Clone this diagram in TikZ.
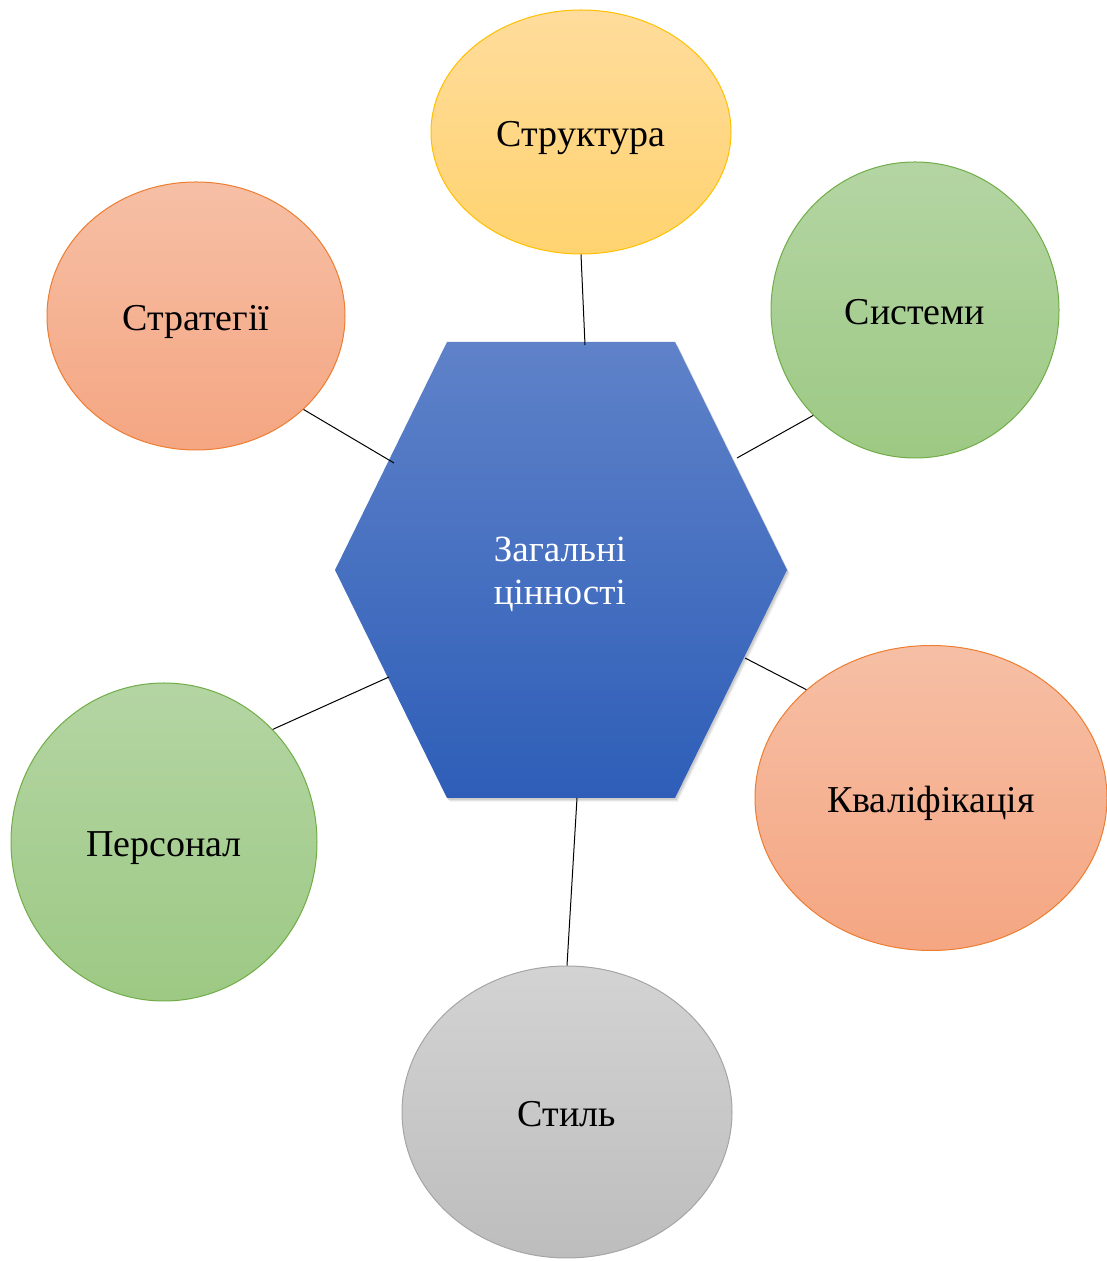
\documentclass[tikz,border=0pt]{standalone}
\usepackage{fontspec}
\setmainfont{Liberation Serif}
\usetikzlibrary{shapes.geometric}

\definecolor{orTop}{HTML}{F6BFA5}
\definecolor{orBot}{HTML}{F5A682}
\definecolor{orLine}{HTML}{ED7D31}
\definecolor{yeTop}{HTML}{FFDC9C}
\definecolor{yeBot}{HTML}{FFD36F}
\definecolor{yeLine}{HTML}{FFC000}
\definecolor{grTop}{HTML}{B4D5A3}
\definecolor{grBot}{HTML}{9DC984}
\definecolor{grLine}{HTML}{70AD47}
\definecolor{gyTop}{HTML}{D3D3D3}
\definecolor{gyBot}{HTML}{BDBDBD}
\definecolor{gyLine}{HTML}{A5A5A5}
\definecolor{blTop}{HTML}{5F82C9}
\definecolor{blBot}{HTML}{2E5EB8}

\tikzset{
  bubble/.style={ellipse, inner sep=0pt, line width=1pt,
    text height=37pt, text depth=8pt,
    font=\fontsize{38}{44}\selectfont, text=black},
  orangebubble/.style={bubble, draw=orLine, top color=orTop, bottom color=orBot},
  yellowbubble/.style={bubble, draw=yeLine, top color=yeTop, bottom color=yeBot},
  greenbubble/.style={bubble, draw=grLine, top color=grTop, bottom color=grBot},
  graybubble/.style={bubble, draw=gyLine, top color=gyTop, bottom color=gyBot},
  link/.style={draw=black, line width=1pt},
}

\begin{document}
\begin{tikzpicture}[x=1pt, y=1pt]
  \useasboundingbox (0,0) rectangle (1107,1261);
  \begin{scope}
    \clip (0,0) rectangle (1107,1261);

    % central hexagon: soft shadow, then gradient body
    \foreach \s/\o in {5/0.04, 4/0.05, 3/0.06, 2/0.07} {
      \fill[black, opacity=\o, xshift=\s*0.6pt, yshift=-\s*0.8pt]
        (447,919) -- (675,919) -- (787,691) -- (675,463) -- (447,463) -- (335,691) -- cycle;
    }
    \shade[top color=blTop, bottom color=blBot]
      (447,919) -- (675,919) -- (787,691) -- (675,463) -- (447,463) -- (335,691) -- cycle;
    \node[align=left, text=white, font=\fontsize{37}{43}\selectfont] (core) at (560,687)
      {Загальні\\цінності};

    % attachment points on the hexagon
    \coordinate (hStr)   at (585,916);
    \coordinate (hStrat) at (394,798);
    \coordinate (hSys)   at (737,803);
    \coordinate (hKval)  at (745,603);
    \coordinate (hPers)  at (389,584);
    \coordinate (hStyl)  at (577,463);

    % surrounding bubbles
    \node[yellowbubble, minimum width=300pt, minimum height=244pt] (str)   at (581,1129) {Структура};
    \node[orangebubble, minimum width=298pt, minimum height=268pt] (strat) at (196,945)  {Стратегії};
    \node[greenbubble,  minimum width=288pt, minimum height=296pt] (sys)   at (915,951)  {Системи};
    \node[orangebubble, minimum width=352pt, minimum height=305pt] (kval)  at (931,463)  {Кваліфікація};
    \node[greenbubble,  minimum width=306pt, minimum height=318pt] (pers)  at (164,419)  {Персонал};
    \node[graybubble,   minimum width=330pt, minimum height=292pt] (styl)  at (567,149)  {Стиль};

    % connectors
    \draw[link] (str.-90)     -- (hStr);
    \draw[link] (strat.-41.9) -- (hStrat);
    \draw[link] (sys.226.1)   -- (hSys);
    \draw[link] (kval.139.4)  -- (hKval);
    \draw[link] (pers.46)     -- (hPers);
    \draw[link] (styl.90)     -- (hStyl);
  \end{scope}
\end{tikzpicture}
\end{document}
